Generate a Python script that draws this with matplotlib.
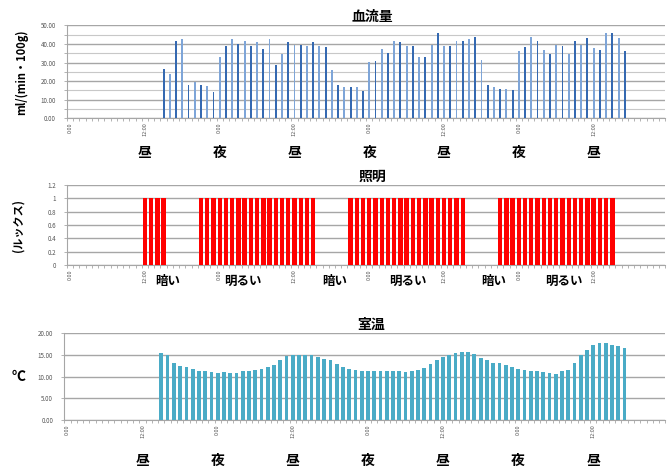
import numpy as np
import matplotlib.pyplot as plt
from matplotlib.ticker import FixedLocator, MultipleLocator

plt.rcParams['font.family'] = ['Noto Sans CJK JP', 'DejaVu Sans']

# hourly categories over four days
n_hours = 96
start_hour = 15

# blood flow, ml/(min・100g), hour 15 .. 89
blood_flow = [
    26.7, 24.0, 41.8, 42.7, 18.0, 19.6, 18.0, 17.5, 14.2, 33.0,
    38.7, 42.9, 40.0, 41.8, 39.1, 41.0, 37.5, 42.7, 28.8, 34.8,
    41.0, 39.6, 39.6, 39.1, 41.3, 39.1, 38.4, 25.8,
    18.0, 16.8, 16.8, 16.8, 14.4, 30.3, 30.6, 37.5, 35.1, 41.8,
    41.0, 39.1, 38.7, 33.0, 33.0, 39.6, 45.9, 39.1, 39.1, 41.8,
    41.8, 42.9, 43.6, 31.5, 18.0, 16.8, 15.9, 15.9, 15.0, 36.0,
    38.4, 43.6, 41.8, 36.9, 34.8, 39.6, 38.7, 34.8, 41.8, 39.6,
    43.2, 37.8, 36.6, 45.9, 45.9, 43.2, 36.0,
]

# lighting on/off, one row per day
lighting = [
    0, 0, 0, 0, 0, 0, 0, 0, 0, 0, 0, 0, 1, 1, 1, 1, 0, 0, 0, 0, 0, 1, 1, 1,
    1, 1, 1, 1, 1, 1, 1, 1, 1, 1, 1, 1, 1, 1, 1, 1, 0, 0, 0, 0, 0, 1, 1, 1,
    1, 1, 1, 1, 1, 1, 1, 1, 1, 1, 1, 1, 1, 1, 1, 1, 0, 0, 0, 0, 0, 1, 1, 1,
    1, 1, 1, 1, 1, 1, 1, 1, 1, 1, 1, 1, 1, 1, 1, 1, 0, 0, 0, 0, 0, 0, 0, 0,
]

# room temperature, deg C, hour 15 .. 89
room_temp = [
    15.3, 15.0, 13.2, 12.4, 12.2, 11.8, 11.3, 11.3, 11.1, 10.8,
    11.1, 10.8, 10.8, 11.3, 11.3, 11.6, 11.8, 12.1, 12.7, 13.9,
    14.7, 15.0, 15.0, 15.0, 15.0, 14.5, 14.1, 13.7,
    12.8, 12.3, 11.85, 11.5, 11.3, 11.3, 11.2, 11.2, 11.2, 11.2,
    11.2, 11.1, 11.2, 11.5, 11.9, 12.8, 13.7, 14.5, 14.9, 15.3,
    15.6, 15.6, 15.1, 14.3, 13.8, 13.2, 13.0, 12.6, 12.2, 11.85,
    11.5, 11.3, 11.2, 11.1, 10.8, 10.7, 11.2, 11.5, 13.2, 14.9,
    16.2, 17.2, 17.7, 17.7, 17.2, 17.0, 16.6,
]

tick_hours = [0, 12, 24, 36, 48, 60, 72, 84]
tick_labels = ['0:00', '12:00'] * 4
day_night = ['昼', '夜', '昼', '夜', '昼', '夜', '昼']
light_words = ['暗い', '明るい', '暗い', '明るい', '暗い', '明るい']
light_word_x = [15.6, 27.7, 42.5, 54.2, 67.9, 79.3]

hours = np.arange(n_hours)
data_hours = np.arange(start_hour, start_hour + len(blood_flow))

fig = plt.figure(figsize=(6.7, 4.71), dpi=100)
ax1 = fig.add_axes([0.100, 0.749, 0.893, 0.197])
ax2 = fig.add_axes([0.100, 0.437, 0.893, 0.170])
ax3 = fig.add_axes([0.096, 0.108, 0.897, 0.185])

grid_col = '#a6a6a6'
label_col = '#555555'


def style_axes(ax):
    ax.set_xlim(-0.5, n_hours - 0.5)
    for s in ['top', 'right']:
        ax.spines[s].set_visible(False)
    ax.spines['left'].set_color(grid_col)
    ax.spines['bottom'].set_color(grid_col)
    ax.spines['left'].set_linewidth(0.8)
    ax.spines['bottom'].set_linewidth(0.8)
    ax.xaxis.set_major_locator(FixedLocator(tick_hours))
    ax.set_xticklabels(tick_labels, rotation=90, fontsize=4, color=label_col)
    ax.xaxis.set_minor_locator(FixedLocator(np.arange(-0.5, n_hours, 1)))
    ax.tick_params(axis='x', which='major', length=0, pad=3)
    ax.tick_params(axis='x', which='minor', length=2, width=0.6, color=grid_col)
    ax.tick_params(axis='y', which='both', length=2, width=0.6, color=grid_col,
                   labelsize=4.5, labelcolor=label_col, pad=6)
    ax.grid(axis='y', which='major', color=grid_col, linewidth=1.0)
    ax.set_axisbelow(True)


# blood flow
style_axes(ax1)
blues = ['#3569b1', '#7ea5d8']
ax1.bar(data_hours, blood_flow, width=0.3,
        color=[blues[i % 2] for i in range(len(blood_flow))], zorder=3)
ax1.set_ylim(0, 50)
ax1.yaxis.set_major_locator(MultipleLocator(10))
ax1.yaxis.set_minor_locator(MultipleLocator(5))
ax1.yaxis.set_major_formatter(lambda v, p: f'{v:.2f}')
ax1.grid(axis='y', which='minor', color='#c8c8c8', linewidth=0.8)
ax1.set_title('血流量', fontsize=10, fontweight='bold', pad=3, x=0.51)
ax1.set_ylabel('ml/(min・100g)', fontsize=8, fontweight='bold', labelpad=9)
for i, w in enumerate(day_night):
    ax1.text(12 + 12 * i, -18.5, w, ha='center', va='center',
             fontsize=10, fontweight='bold')

# lighting
style_axes(ax2)
ax2.bar(hours, lighting, width=0.7, color='#ff0000', zorder=3)
ax2.set_ylim(0, 1.2)
ax2.yaxis.set_major_locator(MultipleLocator(0.2))
ax2.yaxis.set_major_formatter(lambda v, p: f'{v:g}')
ax2.set_title('照明', fontsize=10, fontweight='bold', pad=3, x=0.51)
ax2.set_ylabel('(ルックス)', fontsize=8, fontweight='bold', labelpad=16)
for x, w in zip(light_word_x, light_words):
    ax2.text(x, -0.24, w, ha='center', va='center',
             fontsize=9, fontweight='bold')

# room temperature
style_axes(ax3)
ax3.bar(data_hours, room_temp, width=0.6, color='#4aabc6', zorder=3)
ax3.set_ylim(0, 20)
ax3.yaxis.set_major_locator(MultipleLocator(5))
ax3.yaxis.set_major_formatter(lambda v, p: f'{v:.2f}')
ax3.set_title('室温', fontsize=10, fontweight='bold', pad=3, x=0.51)
ax3.set_ylabel('℃', fontsize=10, fontweight='bold', rotation=0,
               labelpad=14, va='center')
for i, w in enumerate(day_night):
    ax3.text(12 + 12 * i, -9.3, w, ha='center', va='center',
             fontsize=10, fontweight='bold')

fig.savefig('out.png', dpi=100)
